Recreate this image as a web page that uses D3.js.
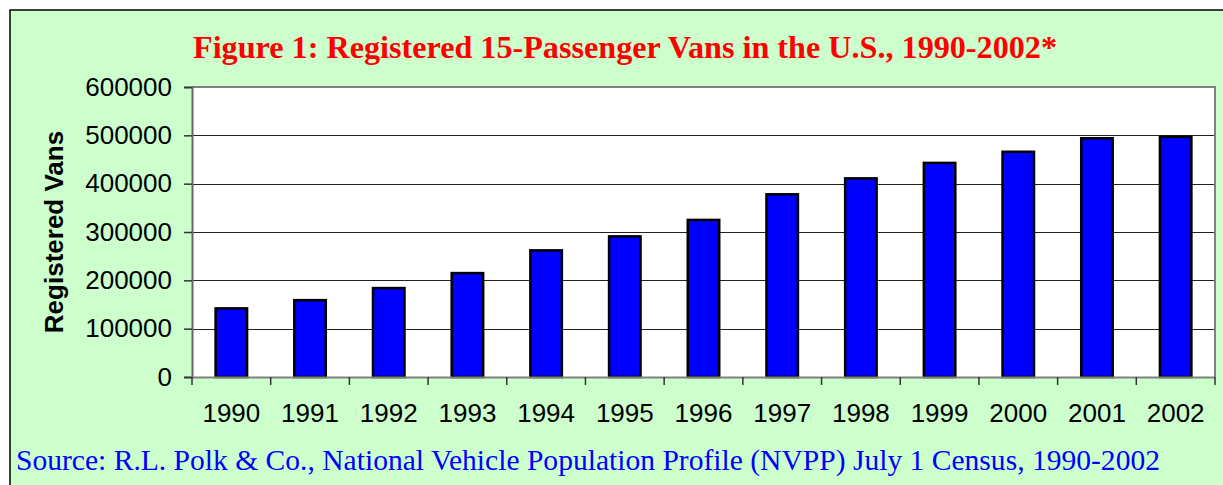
<!DOCTYPE html>
<html lang="en">
<head>
    <meta charset="UTF-8">
    <title>Registered 15-Passenger Vans in the U.S., 1990-2002</title>
    <script src="https://cdn.jsdelivr.net/npm/d3@7"></script>
    <style>
        body {
            margin: 0;
            padding: 0;
            background: #ffffff;
        }
        .tick text {
            font-family: 'Liberation Sans', Arial, sans-serif;
            font-size: 26px;
            fill: #000;
        }
    </style>
</head>
<body>
    <script>
        // chart data
        const years = ["1990", "1991", "1992", "1993", "1994", "1995", "1996",
                       "1997", "1998", "1999", "2000", "2001", "2002"];
        const vans = [142000, 159000, 184000, 215000, 262000, 291000, 325000,
                      378000, 411000, 443000, 466000, 494000, 497000];
        const yTicks = [0, 100000, 200000, 300000, 400000, 500000, 600000];

        const titleText = "Figure 1: Registered 15-Passenger Vans in the U.S., 1990-2002*";
        const sourceText = "Source: R.L. Polk & Co., National Vehicle Population Profile (NVPP) July 1 Census, 1990-2002";

        const width = 1223;
        const height = 485;
        const plot = { left: 192, right: 1215, top: 87, bottom: 377 };

        const svg = d3.select("body")
            .append("svg")
            .attr("width", width)
            .attr("height", height);

        // green panel with black frame
        svg.append("rect")
            .attr("x", 10)
            .attr("y", 10)
            .attr("width", width)
            .attr("height", height)
            .attr("fill", "#ccffcc")
            .attr("stroke", "#000")
            .attr("stroke-width", 1.5);

        const x = d3.scaleBand()
            .domain(years)
            .range([plot.left, plot.right])
            .paddingInner(0.6)
            .paddingOuter(0.3);

        const y = d3.scaleLinear()
            .domain([0, 600000])
            .range([plot.bottom, plot.top]);

        // plot area
        svg.append("rect")
            .attr("x", plot.left)
            .attr("y", plot.top)
            .attr("width", plot.right - plot.left)
            .attr("height", plot.bottom - plot.top)
            .attr("fill", "#fff");

        // gridlines
        svg.append("g")
            .selectAll("line")
            .data(yTicks.filter(d => d > 0 && d < 600000))
            .join("line")
            .attr("x1", plot.left)
            .attr("x2", plot.right)
            .attr("y1", d => Math.round(y(d)) + 0.5)
            .attr("y2", d => Math.round(y(d)) + 0.5)
            .attr("stroke", "#222")
            .attr("stroke-width", 1);

        // top and right border of the plot
        svg.append("path")
            .attr("d", `M${plot.left},${plot.top} H${plot.right} V${plot.bottom}`)
            .attr("fill", "none")
            .attr("stroke", "#808080")
            .attr("stroke-width", 2);

        // bars
        svg.append("g")
            .selectAll("rect")
            .data(vans)
            .join("rect")
            .attr("x", (d, i) => x(years[i]))
            .attr("y", d => y(d))
            .attr("width", x.bandwidth())
            .attr("height", d => y(0) - y(d))
            .attr("fill", "#0000ff")
            .attr("stroke", "#000")
            .attr("stroke-width", 2.5);

        // y axis
        const yAxis = svg.append("g")
            .attr("transform", `translate(${plot.left},0)`)
            .call(d3.axisLeft(y).tickValues(yTicks).tickFormat(d3.format("d")).tickSize(8).tickPadding(12));
        yAxis.select(".domain").attr("stroke", "#666").attr("stroke-width", 2);
        yAxis.selectAll(".tick line").attr("stroke", "#333").attr("stroke-width", 1.5);

        // x axis, ticks sit between categories
        const xAxis = svg.append("g")
            .attr("transform", `translate(0,${plot.bottom})`)
            .call(d3.axisBottom(x).tickSize(0).tickPadding(27));
        xAxis.select(".domain").attr("stroke", "#808080").attr("stroke-width", 2);
        const step = x.step();
        xAxis.selectAll(".sep")
            .data(d3.range(years.length + 1))
            .join("line")
            .attr("class", "sep")
            .attr("x1", i => plot.left + i * step)
            .attr("x2", i => plot.left + i * step)
            .attr("y1", 0)
            .attr("y2", 8)
            .attr("stroke", "#333")
            .attr("stroke-width", 1.5);

        // y axis title
        svg.append("text")
            .attr("transform", `translate(63,${(plot.top + plot.bottom) / 2}) rotate(-90)`)
            .attr("text-anchor", "middle")
            .attr("font-family", "'Liberation Sans', Arial, sans-serif")
            .attr("font-weight", "bold")
            .attr("font-size", 26)
            .attr("fill", "#000")
            .text("Registered Vans");

        // title
        svg.append("text")
            .attr("x", 193)
            .attr("y", 58)
            .attr("font-family", "'Liberation Serif', 'Times New Roman', serif")
            .attr("font-weight", "bold")
            .attr("font-size", 32)
            .attr("fill", "#ff0000")
            .attr("textLength", 864)
            .attr("lengthAdjust", "spacingAndGlyphs")
            .text(titleText);

        // source note
        svg.append("text")
            .attr("x", 16)
            .attr("y", 470)
            .attr("font-family", "'Liberation Serif', 'Times New Roman', serif")
            .attr("font-size", 29)
            .attr("fill", "#0000ff")
            .attr("textLength", 1144)
            .attr("lengthAdjust", "spacingAndGlyphs")
            .text(sourceText);
    </script>
</body>
</html>
